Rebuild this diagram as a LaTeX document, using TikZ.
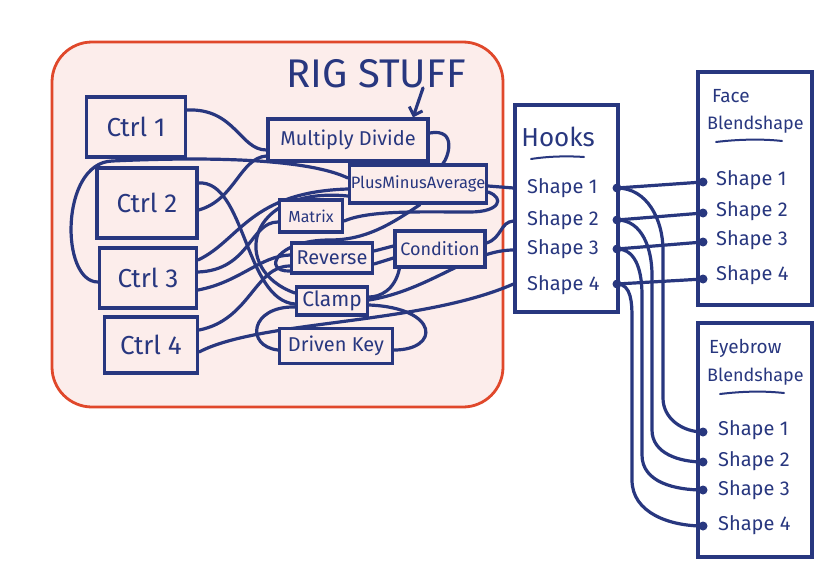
\documentclass[tikz,border=0pt]{standalone}
\usepackage{fontspec}
\setmainfont{Fira Sans}
\usetikzlibrary{arrows.meta,calc}
\definecolor{ink}{HTML}{28377F}
\definecolor{rigred}{HTML}{E0482B}
\definecolor{rigfill}{HTML}{FCEDEB}
\pgfdeclarelayer{back}
\pgfdeclarelayer{mid}
\pgfsetlayers{back,mid,main}
\tikzset{
  box/.style={draw=ink, line width=3.2pt, text=ink, inner sep=0pt, fill=rigfill},
  wbox/.style={draw=ink, line width=3.2pt, text=ink, inner sep=0pt, fill=white},
  lbl/.style={text=ink, inner sep=0pt},
  wire/.style={draw=ink, line width=3.2pt, line cap=round},
  uline/.style={draw=ink, line width=2pt, line cap=round},
  port/.style={circle, fill=ink, inner sep=0pt, minimum size=9pt},
}
\newcommand{\fs}[1]{\fontsize{#1}{#1}\selectfont}
\begin{document}
\begin{tikzpicture}[x=1pt,y=-1pt]
\useasboundingbox (0,0) rectangle (840,570);
\begin{pgfonlayer}{back}
\fill[white] (0,0) rectangle (840,570);
\draw[rigred, fill=rigfill, line width=2.8pt, rounded corners=40pt] (52,42) rectangle (503,407);
\end{pgfonlayer}
\node[lbl, font=\fs{40}] (rigtitle) at (376,74) {RIG STUFF};
% rig nodes
\node[box, minimum width=99pt, minimum height=60pt, font=\fs{26}] (ctrl1) at (136,127) {Ctrl 1};
\node[box, minimum width=100pt, minimum height=70pt, font=\fs{26}] (ctrl2) at (147,203) {Ctrl 2};
\node[box, minimum width=97pt, minimum height=60pt, font=\fs{26}] (ctrl3) at (148,278) {Ctrl 3};
\node[box, minimum width=93pt, minimum height=56pt, font=\fs{26}] (ctrl4) at (151,345) {Ctrl 4};
\node[box, minimum width=160pt, minimum height=42pt, font=\fs{20}] (md) at (348,140) {Multiply Divide};
\node[box, minimum width=137pt, minimum height=38pt, font=\fs{16.5}] (pma) at (418,184) {PlusMinusAverage};
\node[box, minimum width=63pt, minimum height=32pt, font=\fs{16}] (matrix) at (311,216) {Matrix};
\node[box, minimum width=81pt, minimum height=30pt, font=\fs{20}] (reverse) at (332,258) {Reverse};
\node[box, minimum width=90pt, minimum height=36pt, font=\fs{18}] (condition) at (440,249) {Condition};
\node[box, minimum width=71pt, minimum height=28pt, font=\fs{21}] (clamp) at (332,301) {Clamp};
\node[box, minimum width=113pt, minimum height=35pt, font=\fs{20}] (dkey) at (336,346) {Driven Key};
% arrow under title
\coordinate (arrtail) at (423,88);
\draw[wire, -{Straight Barb[length=7pt,width=14pt,line width=3pt]}] (arrtail) -- (md.north -| 413,0);
% right-hand boxes
\node[wbox, minimum width=103pt, minimum height=207pt] (hooks) at (566.5,208.5) {};
\node[lbl, font=\fs{26}] (hookstitle) at (558,137) {Hooks};
\draw[uline] (531,159) .. controls (550,156) and (570,156) .. (584,157);
\node[wbox, minimum width=114pt, minimum height=233pt] (face) at (755,188.5) {};
\node[lbl, font=\fs{19}, anchor=west] (facet1) at (712,96) {Face};
\node[lbl, font=\fs{18}, anchor=west] (facet2) at (707,125) {Blendshape};
\draw[uline] (716,142) .. controls (740,139) and (765,139) .. (782,141);
\node[wbox, minimum width=114pt, minimum height=234pt] (brow) at (755,440) {};
\node[lbl, font=\fs{19}, anchor=west] (browt1) at (709,348) {Eyebrow};
\node[lbl, font=\fs{18}, anchor=west] (browt2) at (707,377) {Blendshape};
\draw[uline] (720,394) .. controls (745,391) and (765,391) .. (784,393);
% shape labels
\foreach \i/\y in {1/188,2/220,3/249,4/285}{
  \node[lbl, font=\fs{20}, anchor=west] (hs\i) at (527,\y) {Shape \i};
}
\foreach \i/\y in {1/180,2/211,3/240,4/275}{
  \node[lbl, font=\fs{20}, anchor=west] (fs\i) at (716,\y) {Shape \i};
}
\foreach \i/\y in {1/430,2/461,3/490,4/525}{
  \node[lbl, font=\fs{20}, anchor=west] (bs\i) at (718,\y) {Shape \i};
}
% ports
\node[port] (h1) at (617,188) {};
\node[port] (h2) at (617,220) {};
\node[port] (h3) at (617,249) {};
\node[port] (h4) at (617,284) {};
\node[port] (f1) at (703,182) {};
\node[port] (f2) at (703,213) {};
\node[port] (f3) at (703,242) {};
\node[port] (f4) at (703,279) {};
\node[port] (e1) at (703,432) {};
\node[port] (e2) at (703,462) {};
\node[port] (e3) at (703,490) {};
\node[port] (e4) at (703,526) {};
% hooks to face
\draw[wire] (h1.center) -- (f1.center);
\draw[wire] (h2.center) -- (f2.center);
\draw[wire] (h3.center) -- (f3.center);
\draw[wire] (h4.center) -- (f4.center);
% hooks to eyebrow
\draw[wire] (h1.center) to[out=0,in=90] (663,250) -- (663,398) to[out=-90,in=180] (e1.center);
\draw[wire] (h2.center) to[out=0,in=90] (652,275) -- (652,430) to[out=-90,in=180] (e2.center);
\draw[wire] (h3.center) to[out=0,in=90] (642,295) -- (642,455) to[out=-90,in=180] (e3.center);
\draw[wire] (h4.center) to[out=0,in=90] (632,318) -- (632,480) to[out=-90,in=180] (e4.center);
% wires inside rig
\begin{pgfonlayer}{mid}
\draw[wire] (ctrl1.east |- 0,110) .. controls (235,108) and (240,150) .. (md.west |- 0,150);
\draw[wire] (ctrl2.east |- 0,210) .. controls (235,200) and (240,158) .. (md.west |- 0,156);
\draw[wire] (ctrl2.east |- 0,183) .. controls (245,180) and (245,300) .. (clamp.west |- 0,304);
\draw[wire] (ctrl3.west |- 0,282) .. controls (60,282) and (60,163) .. (112,161) .. controls (220,156) and (310,160) .. (pma.west |- 0,178);
\draw[wire] (ctrl3.east |- 0,260) .. controls (240,240) and (250,192) .. (pma.west |- 0,189);
\draw[wire] (ctrl3.east |- 0,272) .. controls (250,270) and (250,222) .. (matrix.west |- 0,222);
\draw[wire] (ctrl3.east |- 0,290) .. controls (240,282) and (260,256) .. (reverse.west |- 0,255);
\draw[wire] (ctrl4.east |- 0,330) .. controls (250,320) and (255,266) .. (reverse.west |- 0,266);
\draw[wire] (ctrl4.east |- 0,352) .. controls (260,320) and (420,325) .. (hooks.west |- 0,284);
\draw[wire] (clamp.west |- 0,293) .. controls (230,270) and (245,186) .. (pma.west |- 0,196);
\draw[wire] (clamp.east |- 0,300) .. controls (430,290) and (470,250) .. (hooks.west |- 0,250);
\draw[wire] (clamp.east |- 0,305) .. controls (440,308) and (440,350) .. (dkey.east |- 0,350);
\draw[wire] (dkey.west |- 0,350) .. controls (245,346) and (250,306) .. (clamp.west |- 0,307);
\draw[wire] ($(condition.south west)+(6,0)$) .. controls (395,290) and (380,297) .. (clamp.east |- 0,297);
\draw[wire] (reverse.east |- 0,251) -- (condition.west |- 0,246);
\draw[wire] (reverse.east |- 0,264) -- (condition.west |- 0,258);
\draw[wire] (condition.east |- 0,243) .. controls (502,238) and (500,222) .. (hooks.west |- 0,221);
\draw[wire] (pma.east |- 0,186) -- (hooks.west |- 0,188);
\draw[wire] (md.east |- 0,133) .. controls (458,128) and (448,158) .. (pma.north -| 443,0);
\draw[wire] (pma.east |- 0,192) .. controls (505,198) and (500,212) .. (470,212) .. controls (420,212) and (370,210) .. (matrix.east |- 0,221);
\draw[wire] (pma.south -| 420,0) .. controls (390,225) and (365,240) .. (330,240) .. controls (275,240) and (262,272) .. (reverse.west |- 0,271);
\end{pgfonlayer}
\end{tikzpicture}
\end{document}
